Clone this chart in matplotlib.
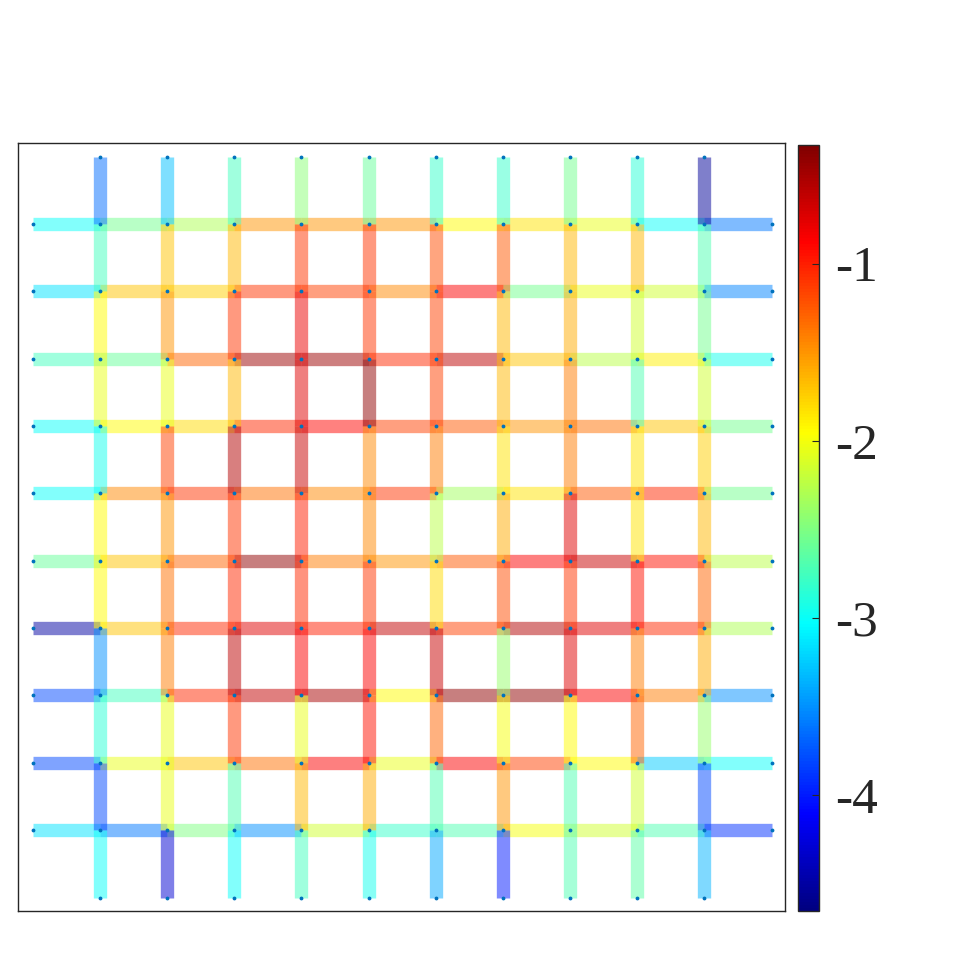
import numpy as np
import matplotlib
matplotlib.use('Agg')
import matplotlib.pyplot as plt
from matplotlib.collections import LineCollection
from matplotlib.colors import Normalize, LinearSegmentedColormap
from matplotlib import cm

plt.rcParams['font.family'] = ['Liberation Serif', 'DejaVu Serif']
plt.rcParams['axes.unicode_minus'] = False

# colour limits of the colorbar
vmin, vmax = -4.655, -0.33
cbar_ticks = [-4, -3, -2, -1]

# horizontal edges: one row per grid line (top to bottom), 11 edges left to right
h_vals = [
    [-3.0, -2.55, -2.3, -1.5, -1.5, -1.5, -1.95, -1.85, -2.05, -3.0, -3.6],
    [-3.15, -1.7, -1.75, -1.1, -1.15, -1.45, -0.87, -2.55, -2.05, -2.15, -3.55],
    [-2.75, -2.6, -1.3, -0.45, -0.45, -1.05, -0.6, -1.7, -2.25, -1.9, -2.95],
    [-3.0, -1.95, -1.8, -1.05, -0.9, -1.15, -1.25, -1.5, -1.35, -1.7, -2.55],
    [-3.0, -1.45, -1.1, -1.35, -1.45, -1.1, -2.35, -1.85, -1.25, -1.05, -2.55],
    [-2.6, -1.7, -1.3, -0.4, -1.4, -1.5, -1.25, -0.87, -0.65, -0.95, -2.25],
    [-4.5, -1.7, -1.05, -0.75, -1.0, -0.62, -1.15, -0.55, -0.75, -1.05, -2.3],
    [-3.8, -2.75, -1.05, -0.62, -0.5, -1.95, -0.4, -0.4, -0.87, -1.4, -3.5],
    [-3.8, -2.05, -1.7, -1.35, -0.87, -2.05, -0.87, -1.15, -1.95, -3.25, -3.0],
    [-3.15, -3.6, -2.5, -3.5, -2.15, -2.8, -2.7, -2.0, -2.15, -2.7, -3.9],
]

# vertical edges: one column per grid line (left to right), 11 edges top to bottom
v_vals = [
    [-3.65, -2.75, -1.95, -2.05, -2.95, -1.95, -1.95, -3.5, -2.85, -3.8, -3.0],
    [-3.3, -1.7, -1.5, -2.05, -1.15, -1.5, -1.35, -1.4, -2.05, -2.05, -4.3],
    [-2.75, -1.65, -1.1, -1.65, -0.55, -1.1, -1.05, -0.6, -1.1, -2.7, -3.0],
    [-2.45, -1.1, -0.8, -0.75, -0.65, -1.0, -1.05, -0.87, -2.05, -1.65, -2.75],
    [-2.6, -1.1, -1.1, -0.4, -1.45, -1.45, -1.1, -0.87, -0.95, -1.6, -2.95],
    [-2.8, -1.2, -1.15, -1.15, -1.4, -2.25, -1.8, -0.65, -1.3, -2.7, -3.4],
    [-2.8, -1.25, -1.65, -1.65, -1.85, -1.6, -1.2, -2.4, -2.0, -1.5, -4.0],
    [-2.55, -1.65, -1.6, -1.4, -1.4, -0.75, -1.1, -0.75, -1.95, -2.7, -2.7],
    [-2.85, -1.65, -2.15, -2.7, -1.85, -1.85, -0.95, -1.4, -1.3, -2.15, -2.65],
    [-4.55, -2.7, -2.55, -2.15, -1.75, -1.65, -1.3, -1.6, -2.4, -3.8, -3.35],
]

# MATLAB style jet
jet = LinearSegmentedColormap.from_list('mjet', [
    (0.0, (0, 0, 0.5)), (0.125, (0, 0, 1)), (0.375, (0, 1, 1)),
    (0.625, (1, 1, 0)), (0.875, (1, 0, 0)), (1.0, (0.5, 0, 0))], N=256)

n = 11  # nodes run 0..11 in both directions

segs = []
vals = []
for j, row in enumerate(h_vals):
    y = j + 1
    for k, v in enumerate(row):
        segs.append([(k, y), (k + 1, y)])
        vals.append(v)
for i, col in enumerate(v_vals):
    x = i + 1
    for k, v in enumerate(col):
        segs.append([(x, k), (x, k + 1)])
        vals.append(v)

# node positions (interior grid plus the boundary stubs)
nx, ny = [], []
for i in range(n + 1):
    for j in range(n + 1):
        if 1 <= i <= n - 1 or 1 <= j <= n - 1:
            nx.append(i)
            ny.append(j)

fig = plt.figure(figsize=(9.6, 9.6), dpi=100)
ax = fig.add_axes([0.01875, 0.051, 0.799, 0.8])

norm = Normalize(vmin=vmin, vmax=vmax)
lc = LineCollection(segs, cmap=jet, norm=norm, linewidths=9.6,
                    alpha=0.5, capstyle='butt')
lc.set_array(np.array(vals))
ax.add_collection(lc)
ax.plot(nx, ny, '.', color=(0, 0.447, 0.741), markersize=3.5, zorder=3)

ax.set_xlim(-0.22, 11.2)
ax.set_ylim(11.2, -0.2)
ax.set_xticks([])
ax.set_yticks([])
for s in ax.spines.values():
    s.set_color('#262626')
    s.set_linewidth(1.0)

cax = fig.add_axes([0.831, 0.051, 0.022, 0.798])
sm = cm.ScalarMappable(norm=norm, cmap=jet)
cb = fig.colorbar(sm, cax=cax)
cb.set_ticks(cbar_ticks)
cb.ax.tick_params(direction='in', length=5, width=0.8, labelsize=37,
                  colors='#262626', pad=12)
cb.outline.set_edgecolor('#262626')
cb.outline.set_linewidth(1.0)

fig.savefig('out.png', dpi=100)
